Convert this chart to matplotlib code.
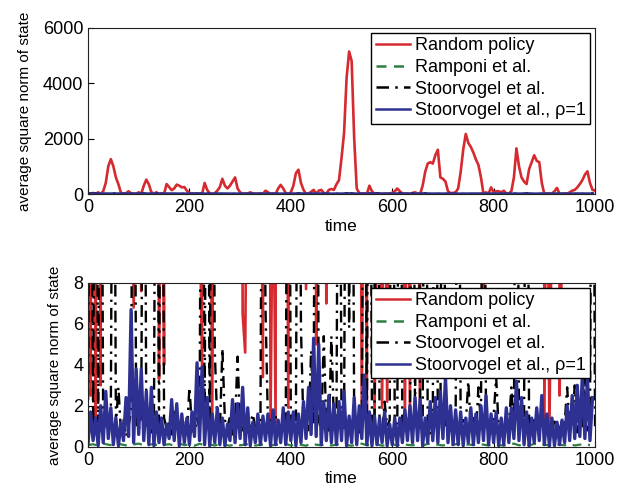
import numpy as np
import matplotlib
matplotlib.use('Agg')
import matplotlib.pyplot as plt

plt.rcParams['font.family'] = ['Liberation Sans', 'DejaVu Sans']

# Random policy, sampled every 5 time steps (t = 0..1000)
red_vals = [
    12, 2.5, 40, 1.0, 60, 3.0, 100, 400, 1000, 1260,
    1000, 600, 350, 40, 20, 30, 100, 20, 6.8, 15,
    60, 7.6, 300, 520, 350, 60, 20, 60, 3.3, 30,
    4.0, 360, 250, 140, 200, 340, 300, 240, 250, 120,
    40, 15, 12, 20, 12, 3.9, 400, 150, 20, 1.4,
    30, 120, 250, 550, 300, 200, 300, 450, 600, 200,
    60, 6.5, 4.6, 20, 60, 20, 12, 10, 20, 3.4,
    120, 60, 1.3, 15, 1.2, 200, 330, 200, 30, 1.9,
    60, 300, 750, 880, 400, 150, 7.7, 20, 80, 150,
    5.0, 120, 150, 40, 7.0, 150, 180, 150, 350, 500,
    1300, 2200, 4200, 5150, 4800, 2000, 200, 30, 1.2, 25,
    1.0, 300, 100, 1.4, 12, 20, 1.9, 20, 2.2, 20,
    40, 100, 200, 100, 20, 1.2, 20, 1.6, 40, 60,
    20, 1.0, 300, 800, 1100, 1150, 1100, 1400, 1600, 600,
    550, 450, 100, 30, 40, 60, 200, 800, 1600, 2170,
    1850, 1700, 1500, 1250, 1050, 600, 5.5, 60, 20, 240,
    60, 100, 100, 60, 120, 12, 20, 100, 600, 1650,
    1000, 600, 450, 360, 900, 1150, 1400, 1200, 1150, 400,
    0.8, 20, 0.7, 12, 100, 220, 2.5, 10, 20, 12,
    60, 120, 150, 240, 360, 500, 700, 820, 400, 150,
    120,
]

# Stoorvogel et al., sampled every 5 time steps
black_vals = [
    1.0, 30, 0.8, 30, 1.2, 30, 0.6, 1.4, 0.9, 1.6,
    30, 1.1, 2.9, 0.7, 1.3, 0.5, 1.0, 1.8, 30, 1.2,
    0.8, 1.5, 30, 0.9, 1.3, 0.7, 1.1, 30, 0.6, 30,
    1.4, 0.9, 1.2, 0.6, 1.7, 1.0, 0.8, 1.3, 1.1, 0.7,
    2.9, 1.0, 0.6, 1.4, 0.9, 30, 1.2, 30, 0.8, 30,
    4.7, 1.1, 0.7, 4.8, 1.3, 0.9, 1.5, 0.6, 1.2, 4.4,
    1.0, 0.8, 1.4, 0.7, 1.1, 1.6, 0.9, 1.2, 0.6, 30,
    6.8, 1.0, 1.3, 0.8, 1.5, 0.7, 1.1, 0.9, 1.4, 30,
    1.2, 0.8, 1.0, 30, 5.8, 0.9, 1.4, 0.7, 4.7, 1.1,
    40, 1.3, 0.8, 5.4, 1.0, 0.7, 5.4, 1.2, 0.9, 30,
    1.1, 0.8, 30, 5.8, 30, 1.0, 1.3, 0.7, 1.2, 30,
    0.9, 30, 1.4, 0.8, 30, 1.1, 0.6, 2.2, 1.0, 1.3,
    30, 0.9, 1.2, 30, 0.7, 1.5, 1.1, 0.8, 30, 1.0,
    30, 1.3, 0.9, 30, 1.2, 0.6, 1.4, 30, 0.8, 1.1,
    30, 0.9, 1.5, 0.7, 1.2, 1.0, 30, 0.8, 1.3, 1.1,
    3.2, 0.9, 1.4, 0.7, 2.9, 1.1, 30, 0.8, 1.2, 1.0,
    1.5, 3.4, 0.9, 1.1, 0.7, 1.3, 1.0, 2.9, 0.8, 30,
    1.2, 0.9, 1.4, 30, 0.7, 1.1, 1.3, 0.8, 1.0, 1.7,
    0.9, 1.2, 0.7, 0.5, 1.4, 1.0, 0.8, 1.3, 1.1, 2.9,
    0.9, 1.2, 3.0, 0.7, 1.4, 1.0, 3.5, 0.8, 1.2, 30,
    1.0,
]

# Stoorvogel et al., rho=1: peaks and troughs per 10-step window
blue_hi = [
    1.7, 1.4, 2.0, 2.7, 1.9, 1.4, 1.2, 2.4, 6.7, 3.8,
    3.8, 2.7, 2.9, 1.7, 1.4, 1.1, 2.3, 2.1, 1.6, 1.4,
    1.7, 4.1, 3.9, 2.4, 1.6, 1.9, 1.4, 1.1, 2.3, 2.1,
    2.9, 1.9, 1.2, 1.6, 1.5, 1.6, 1.8, 1.3, 1.9, 1.7,
    1.7, 1.6, 2.2, 2.9, 5.3, 5.0, 2.2, 2.5, 2.1, 2.2,
    2.7, 1.5, 2.4, 2.0, 3.5, 1.7, 1.5, 1.4, 1.7, 1.1,
    1.4, 1.4, 1.8, 2.0, 2.4, 2.3, 1.4, 2.2, 2.4, 2.7,
    3.4, 2.0, 1.8, 1.7, 1.4, 1.9, 1.6, 2.0, 2.5, 1.6,
    1.7, 1.4, 1.9, 1.9, 3.2, 2.4, 1.7, 1.4, 1.9, 2.5,
    1.6, 1.4, 1.2, 1.3, 2.0, 2.5, 3.0, 3.5, 3.4, 2.4,
]
blue_lo = [
    0.15, 0.3, 0.05, 0.2, 0.4, 0.1, 0.05, 0.3, 0.5, 0.2,
    0.6, 0.3, 0.1, 0.05, 0.2, 0.1, 0.4, 0.3, 0.05, 0.2,
    0.1, 0.5, 0.3, 0.1, 0.05, 0.2, 0.1, 0.05, 0.3, 0.2,
    0.4, 0.1, 0.05, 0.2, 0.1, 0.3, 0.05, 0.1, 0.2, 0.1,
    0.3, 0.05, 0.2, 0.4, 0.6, 0.5, 0.1, 0.3, 0.2, 0.1,
    0.3, 0.05, 0.2, 0.1, 0.4, 0.1, 0.05, 0.1, 0.2, 0.05,
    0.1, 0.05, 0.2, 0.3, 0.2, 0.3, 0.05, 0.2, 0.3, 0.2,
    0.4, 0.2, 0.1, 0.1, 0.05, 0.2, 0.1, 0.2, 0.3, 0.1,
    0.2, 0.05, 0.1, 0.2, 0.4, 0.3, 0.1, 0.05, 0.2, 0.3,
    0.1, 0.05, 0.05, 0.1, 0.2, 0.3, 0.4, 0.5, 0.4, 0.3,
]

# Ramponi et al., every 10 steps
green_vals = [
    0.08, 0.12, 0.05, 0.15, 0.1, 0.06, 0.14, 0.09, 0.04, 0.11,
    0.15, 0.07, 0.1, 0.13, 0.05, 0.09, 0.12, 0.06, 0.15, 0.08,
    0.1, 0.05, 0.14, 0.08, 0.11, 0.06, 0.15, 0.09, 0.05, 0.12,
    0.07, 0.1, 0.15, 0.06, 0.09, 0.13, 0.05, 0.11, 0.08, 0.14,
    0.06, 0.12, 0.09, 0.05, 0.15, 0.1, 0.07, 0.13, 0.06, 0.1,
    0.14, 0.08, 0.05, 0.11, 0.15, 0.07, 0.09, 0.12, 0.05, 0.1,
    0.13, 0.06, 0.15, 0.09, 0.07, 0.11, 0.05, 0.14, 0.08, 0.1,
    0.06, 0.12, 0.09, 0.15, 0.05, 0.11, 0.08, 0.14, 0.1, 0.06,
    0.13, 0.09, 0.05, 0.12, 0.15, 0.07, 0.1, 0.06, 0.14, 0.08,
    0.11, 0.05, 0.15, 0.09, 0.07, 0.13, 0.06, 0.1, 0.12, 0.08,
]

labels = ['Random policy', 'Ramponi et al.', 'Stoorvogel et al.',
          'Stoorvogel et al., \u03c1=1']

t5 = np.arange(len(red_vals)) * 5
t10 = np.arange(len(green_vals)) * 10
blue_t = np.ravel(np.column_stack([t10, t10 + 5]))
blue_vals = np.ravel(np.column_stack([blue_lo, blue_hi]))

c_red = '#d42a30'
c_green = '#2e7f43'
c_black = '#000000'
c_blue = '#2e3192'

fig = plt.figure(figsize=(6.3, 4.99), dpi=100)
ax1 = fig.add_axes([0.1397, 0.6112, 0.8048, 0.3327])
ax2 = fig.add_axes([0.1397, 0.1048, 0.8048, 0.3281])


def draw(ax, ylim, yticks):
    ax.plot(t5, red_vals, color=c_red, lw=1.9, label=labels[0])
    ax.plot(t10, green_vals, color=c_green, lw=1.6, ls=(0, (4, 3)), label=labels[1])
    ax.plot(t5, black_vals, color=c_black, lw=1.7, ls=(0, (5, 2.5, 1, 2.5)), label=labels[2])
    ax.plot(blue_t, blue_vals, color=c_blue, lw=2.4, label=labels[3])
    ax.set_xlim(0, 1000)
    ax.set_ylim(*ylim)
    ax.set_xticks(range(0, 1001, 200))
    ax.set_yticks(yticks)
    ax.tick_params(direction='in', length=4, labelsize=13, width=0.8)
    for s in ax.spines.values():
        s.set_linewidth(0.8)
        s.set_color('#222222')
    ax.set_xlabel('time', fontsize=12.5, labelpad=2)
    ax.set_ylabel('average square norm of state', fontsize=11, labelpad=8)
    leg = ax.legend(loc='upper right', bbox_to_anchor=(0.99, 0.97), fontsize=13,
                    handlelength=1.9, handletextpad=0.25, labelspacing=0.25,
                    borderpad=0.25, borderaxespad=0, fancybox=False,
                    framealpha=1, edgecolor='black')
    leg.get_frame().set_linewidth(1.0)
    for h in leg.get_lines():
        h.set_linewidth(1.8)


draw(ax1, (0, 6000), [0, 2000, 4000, 6000])
draw(ax2, (0, 8), [0, 2, 4, 6, 8])

fig.savefig('out.png', dpi=100)
